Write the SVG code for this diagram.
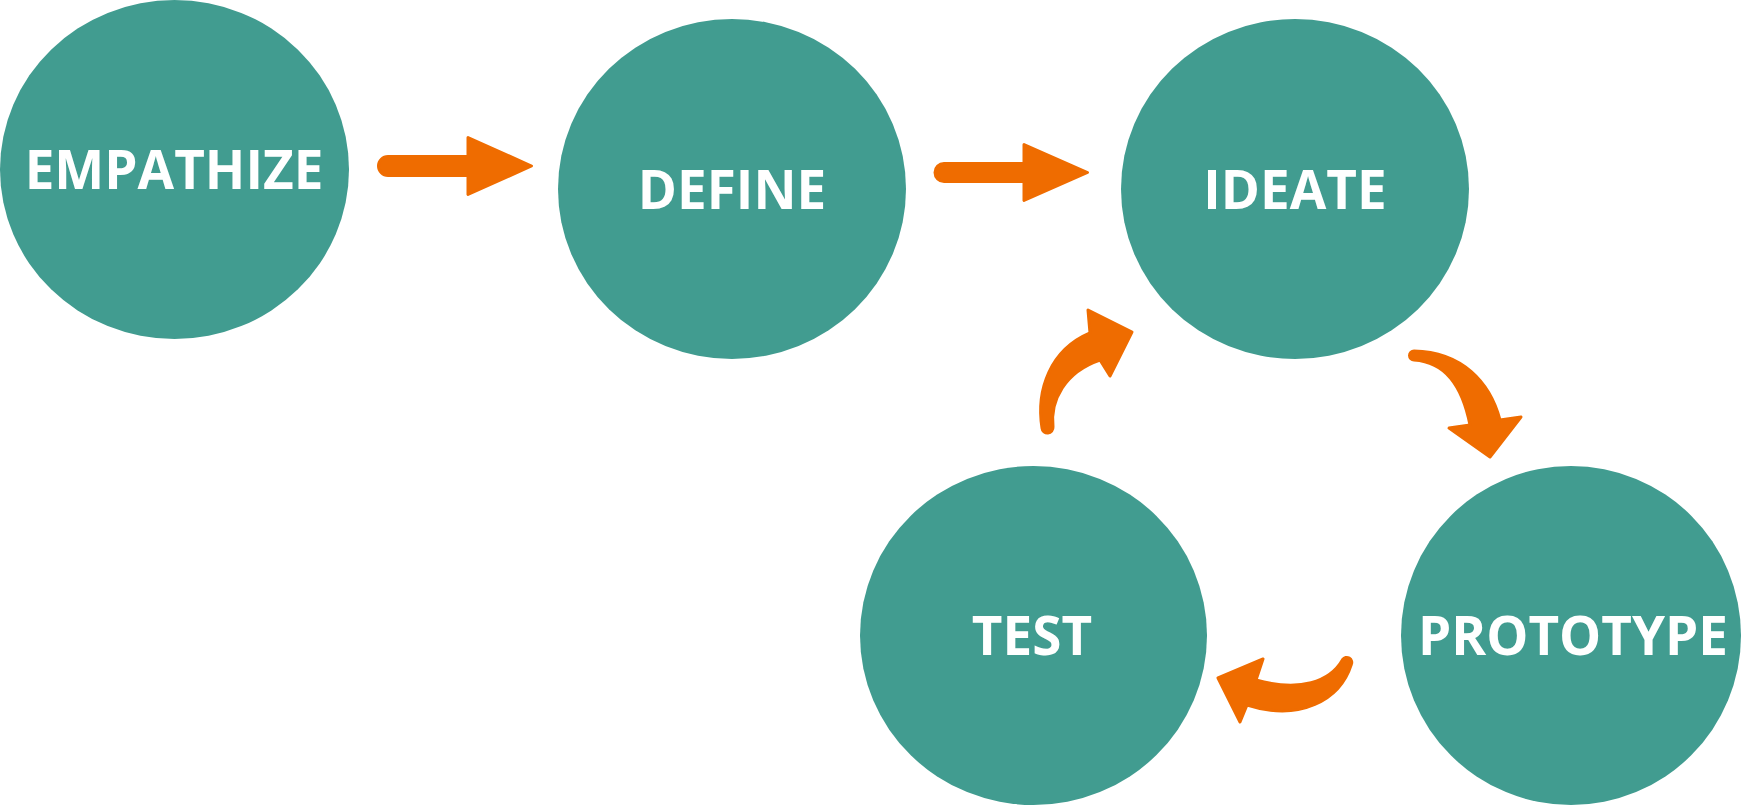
<svg xmlns="http://www.w3.org/2000/svg" width="1747" height="806" viewBox="0 0 1747 806">
<style>
.node{fill:#419C90}
.lbl{font-family:"Open Sans","Liberation Sans",sans-serif;font-weight:700;font-size:53px;fill:#FFFFFF;text-anchor:middle}
.arr{fill:#EF6C00;stroke:#EF6C00;stroke-width:3;stroke-linejoin:round}
</style>
<rect width="1747" height="806" fill="#FFFFFF"/>
<g id="empathize"><ellipse class="node" cx="174.5" cy="169.5" rx="174.5" ry="169.5"/><text class="lbl" x="174" y="189">EMPATHIZE</text></g>
<g id="define"><ellipse class="node" cx="732" cy="189" rx="174" ry="170"/><text class="lbl" x="732" y="209">DEFINE</text></g>
<g id="ideate"><ellipse class="node" cx="1295" cy="189" rx="174" ry="170"/><text class="lbl" x="1295" y="209">IDEATE</text></g>
<g id="test"><ellipse class="node" cx="1033.5" cy="635.5" rx="173.5" ry="169.5"/><text class="lbl" x="1032" y="655">TEST</text></g>
<g id="prototype"><ellipse class="node" cx="1571" cy="635.5" rx="170" ry="169.5"/><text class="lbl" x="1573" y="655">PROTOTYPE</text></g>
<g id="connectors">
<path class="arr" d="M388 156.5 L468 156.5 L468 137.5 L531.5 166 L468 194.5 L468 175.5 L388 175.5 A9.5 9.5 0 0 1 388 156.5 Z"/>
<path class="arr" d="M944 163.5 L1024 163.5 L1024 144.5 L1087.5 172.5 L1024 200.5 L1024 181.5 L944 181.5 A9 9 0 0 1 944 163.5 Z"/>
<path class="arr" d="M1414 351 C1462 352 1490 382 1500 420 L1521 417 L1490 457 L1449 428 L1470 425 C1462 385 1445 362 1414 360 A4.5 4.5 0 0 1 1414 351 Z"/>
<path class="arr" d="M1342.7 659.5 C1330 682 1300 692 1256 680 L1263 659 L1218 678 L1240 722 L1247 705 C1300 722 1340 700 1351.3 664.5 A5 5 0 0 0 1342.7 659.5 Z"/>
<path class="arr" d="M1042 428 C1036 390 1050 350 1090 333 L1088 310 L1132 332 L1110 376 L1100 360 C1065 372 1050 400 1053 427 A5.5 5.5 0 0 1 1042 428 Z"/>
</g>
</svg>
